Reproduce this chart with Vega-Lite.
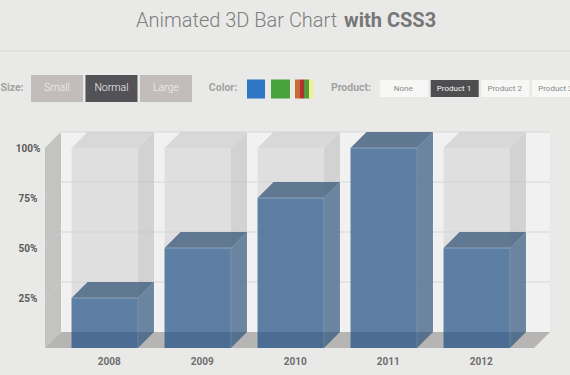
{
"$schema":"https://vega.github.io/schema/vega-lite/v6.json",
"width":570,"height":375,"autosize":{"type":"none"},"padding":0,
"background":"#e9e9e7",
"config":{"view":{"stroke":null},"font":"Roboto"},
"datasets":{
"bars":[{"year":2008,"value":25},{"year":2009,"value":50},{"year":2010,"value":75},{"year":2011,"value":100},{"year":2012,"value":50}],
"ticks":[{"tick":25},{"tick":50},{"tick":75},{"tick":100}],
"wall":[{"edge":0},{"edge":1}],
"buttons":[{"group":"size","label":"Small","order":0,"active":false},{"group":"size","label":"Normal","order":1,"active":true},{"group":"size","label":"Large","order":2,"active":false}],
"products":[{"label":"None","order":0,"active":false},{"label":"Product 1","order":1,"active":true},{"label":"Product 2","order":2,"active":false},{"label":"Product 3","order":3,"active":false}],
"swatches":[{"swatch":"blue","order":0},{"swatch":"green","order":1},{"swatch":"orange","order":2},{"swatch":"red","order":3},{"swatch":"leaf","order":4},{"swatch":"yellow","order":5}]
},
"layer":[
{"data":{"name":"wall"},"mark":{"type":"area","orient":"vertical","color":"#c3c3c2"},
"transform":[{"calculate":"2007.3575+datum.edge*0.172","as":"x"},{"calculate":"100+datum.edge*8","as":"t"},{"calculate":"datum.edge*8","as":"b"}],
"encoding":{
"x":{"field":"x","type":"quantitative","scale":{"domain":[2006.8737,2013.0027],"nice":false,"zero":false},
"axis":{"values":[2008,2009,2010,2011,2012],"format":"d","orient":"bottom","domain":false,"ticks":false,"grid":false,"title":null,"labelOffset":4,"labelPadding":-19,"labelFont":"Roboto","labelFontSize":10,"labelFontWeight":"bold","labelColor":"#6f6f6f"}},
"y":{"field":"t","type":"quantitative","scale":{"domain":[-13.5,174],"nice":false,"zero":false},
"axis":{"values":[25,50,75,100],"labelExpr":"datum.value+'%'","orient":"left","domain":false,"ticks":false,"grid":false,"title":null,"labelAlign":"center","labelPadding":-27.5,"labelOffset":0.5,"labelFont":"Roboto","labelFontSize":10,"labelFontWeight":"bold","labelColor":"#5a5a5a"}},
"y2":{"field":"b"}}},
{"data":{"name":"wall"},"mark":{"type":"area","orient":"horizontal","color":"#b6b5b3"},
"transform":[{"calculate":"2007.3575+datum.edge*0.172","as":"x"},{"calculate":"2012.616+datum.edge*0.172","as":"x2"},{"calculate":"datum.edge*8","as":"y"}],
"encoding":{"x":{"field":"x","type":"quantitative"},"x2":{"field":"x2"},"y":{"field":"y","type":"quantitative"}}},
{"data":{"name":"wall"},"transform":[{"filter":"datum.edge==0"}],"mark":{"type":"rect","color":"#f1f1f1"},
"encoding":{"x":{"datum":2007.5296,"type":"quantitative"},"x2":{"datum":2012.788},"y":{"datum":8,"type":"quantitative"},"y2":{"datum":108}}},
{"data":{"name":"ticks"},"mark":{"type":"rule","color":"#d2d2d2","strokeWidth":0.8},
"transform":[{"calculate":"datum.tick+8","as":"g"}],
"encoding":{"x":{"datum":2007.5296,"type":"quantitative"},"x2":{"datum":2012.788},"y":{"field":"g","type":"quantitative"}}},
{"data":{"name":"ticks"},"mark":{"type":"line","color":"#cfcfcf","strokeWidth":0.8},
"transform":[{"calculate":"[0,1]","as":"edge"},{"flatten":["edge"]},{"calculate":"2007.3575+datum.edge*0.172","as":"x"},{"calculate":"datum.tick+datum.edge*8","as":"y"}],
"encoding":{"x":{"field":"x","type":"quantitative"},"y":{"field":"y","type":"quantitative"},"detail":{"field":"tick"}}},

{"data":{"name":"bars"},"mark":{"type":"rect","color":"#d3d3d3","opacity":0.6},
"transform":[{"calculate":"datum.year-0.357","as":"x0"},{"calculate":"datum.year+0.357","as":"x1"}],
"encoding":{"x":{"field":"x0","type":"quantitative"},"x2":{"field":"x1"},"y":{"datum":0,"type":"quantitative"},"y2":{"datum":100}}},
{"data":{"name":"bars"},"mark":{"type":"area","orient":"vertical","color":"#c2c2c2","opacity":0.65},
"transform":[{"calculate":"[0,1]","as":"edge"},{"flatten":["edge"]},{"calculate":"datum.year+0.357+datum.edge*0.172","as":"x"},{"calculate":"100+datum.edge*8","as":"t"},{"calculate":"datum.edge*8","as":"b"}],
"encoding":{"x":{"field":"x","type":"quantitative"},"y":{"field":"t","type":"quantitative"},"y2":{"field":"b"},"detail":{"field":"year"}}},
{"data":{"name":"bars"},"mark":{"type":"area","orient":"horizontal","color":"#cdcdcd","opacity":0.7},
"transform":[{"calculate":"[0,1]","as":"edge"},{"flatten":["edge"]},{"calculate":"datum.year-0.357+datum.edge*0.172","as":"x"},{"calculate":"datum.year+0.357+datum.edge*0.172","as":"x2"},{"calculate":"100+datum.edge*8","as":"y"}],
"encoding":{"x":{"field":"x","type":"quantitative"},"x2":{"field":"x2"},"y":{"field":"y","type":"quantitative"},"detail":{"field":"year"}}},

{"data":{"name":"bars"},"mark":{"type":"rect","color":"#3a6494","opacity":0.78},
"transform":[{"calculate":"datum.year-0.357","as":"x0"},{"calculate":"datum.year+0.357","as":"x1"}],
"encoding":{"x":{"field":"x0","type":"quantitative"},"x2":{"field":"x1"},"y":{"field":"value","type":"quantitative"},"y2":{"datum":0}}},
{"data":{"name":"bars"},"mark":{"type":"area","orient":"vertical","color":"#42668c","opacity":0.72},
"transform":[{"calculate":"[0,1]","as":"edge"},{"flatten":["edge"]},{"calculate":"datum.year+0.357+datum.edge*0.172","as":"x"},{"calculate":"datum.value+datum.edge*8","as":"t"},{"calculate":"datum.edge*8","as":"b"}],
"encoding":{"x":{"field":"x","type":"quantitative"},"y":{"field":"t","type":"quantitative"},"y2":{"field":"b"},"detail":{"field":"year"}}},
{"data":{"name":"bars"},"mark":{"type":"area","orient":"horizontal","color":"#466282","opacity":0.82},
"transform":[{"calculate":"[0,1]","as":"edge"},{"flatten":["edge"]},{"calculate":"datum.year-0.357+datum.edge*0.172","as":"x"},{"calculate":"datum.year+0.357+datum.edge*0.172","as":"x2"},{"calculate":"datum.value+datum.edge*8","as":"y"}],
"encoding":{"x":{"field":"x","type":"quantitative"},"x2":{"field":"x2"},"y":{"field":"y","type":"quantitative"},"detail":{"field":"year"}}},
{"data":{"name":"bars"},"mark":{"type":"area","orient":"horizontal","color":"#24466e","opacity":0.24},
"transform":[{"calculate":"[0,1]","as":"edge"},{"flatten":["edge"]},{"calculate":"datum.year-0.357","as":"x"},{"calculate":"datum.year+0.357+datum.edge*0.172","as":"x2"},{"calculate":"datum.edge*8","as":"y"}],
"encoding":{"x":{"field":"x","type":"quantitative"},"x2":{"field":"x2"},"y":{"field":"y","type":"quantitative"},"detail":{"field":"year"}}},
{"data":{"name":"bars"},"mark":{"type":"rule","color":"#c3d1e0","opacity":0.6,"strokeWidth":0.8},
"transform":[{"calculate":"datum.year-0.357","as":"x0"},{"calculate":"datum.year+0.357","as":"x1"}],
"encoding":{"x":{"field":"x0","type":"quantitative"},"x2":{"field":"x1"},"y":{"field":"value","type":"quantitative"}}},
{"data":{"name":"bars"},"mark":{"type":"rule","color":"#a9bccf","opacity":0.25,"strokeWidth":1},
"transform":[{"calculate":"datum.year+0.357","as":"x1"}],
"encoding":{"x":{"field":"x1","type":"quantitative"},"y":{"field":"value","type":"quantitative"},"y2":{"datum":0}}},

{"data":{"name":"wall"},"transform":[{"filter":"datum.edge==0"}],"mark":{"type":"rule","color":"#d9d9d8","strokeWidth":1},
"encoding":{"x":{"datum":2006.8737,"type":"quantitative"},"x2":{"datum":2013.0027},"y":{"datum":148.5,"type":"quantitative"}}},
{"data":{"values":[{"label":"Animated 3D Bar Chart"}]},"mark":{"type":"text","align":"left","baseline":"middle","fontSize":20,"fontWeight":300,"color":"#7f7f7f"},
"encoding":{"x":{"datum":2008.336,"type":"quantitative"},"y":{"datum":163.5,"type":"quantitative"},"text":{"field":"label"}}},
{"data":{"values":[{"label":"with CSS3"}]},"mark":{"type":"text","align":"left","baseline":"middle","fontSize":20,"fontWeight":"bold","color":"#777777"},
"encoding":{"x":{"datum":2010.5726,"type":"quantitative"},"y":{"datum":163.5,"type":"quantitative"},"text":{"field":"label"}}},

{"data":{"values":[{"label":"Size:","order":0},{"label":"Color:","order":1},{"label":"Product:","order":2}]},
"transform":[{"calculate":"[2007.0027,2009.2715,2010.6478][datum.order]","as":"x"}],
"mark":{"type":"text","align":"center","baseline":"middle","fontSize":10.5,"fontWeight":"bold","color":"#a3a3a3"},
"encoding":{"x":{"field":"x","type":"quantitative"},"y":{"datum":130,"type":"quantitative"},"text":{"field":"label"}}},

{"data":{"name":"buttons"},"transform":[{"calculate":"2007.207+datum.order*0.586","as":"x0"},{"calculate":"datum.x0+0.5591","as":"x1"}],
"mark":{"type":"rect"},
"encoding":{"x":{"field":"x0","type":"quantitative"},"x2":{"field":"x1"},"y":{"datum":136.5,"type":"quantitative"},"y2":{"datum":123},
"color":{"condition":{"test":"datum.active","value":"#525257"},"value":"#c2bcbc"}}},
{"data":{"name":"buttons"},"transform":[{"calculate":"2007.207+datum.order*0.586+0.2795","as":"x"}],
"mark":{"type":"text","align":"center","baseline":"middle","fontSize":10.5,"fontWeight":300,"color":"#f4f2f2"},
"encoding":{"x":{"field":"x","type":"quantitative"},"y":{"datum":130,"type":"quantitative"},"text":{"field":"label"}}},

{"data":{"name":"swatches"},"transform":[{"calculate":"[2009.5296,2009.7876,2010.0457,2010.0995,2010.1425,2010.1962][datum.order]","as":"x0"},{"calculate":"[2009.7231,2009.9919,2010.0995,2010.1425,2010.1962,2010.2392][datum.order]","as":"x1"}],
"mark":{"type":"rect"},
"encoding":{"x":{"field":"x0","type":"quantitative"},"x2":{"field":"x1"},"y":{"datum":134.25,"type":"quantitative"},"y2":{"datum":124.75},
"color":{"field":"swatch","type":"nominal","legend":null,"scale":{"domain":["blue","green","orange","red","leaf","yellow"],"range":["#2f77c4","#47a13c","#cf6a36","#b92e2e","#4f9e3e","#f5ef8c"]}}}},

{"data":{"name":"products"},"transform":[{"calculate":"2010.9597+datum.order*0.5452","as":"x0"},{"calculate":"datum.x0+0.5161","as":"x1"}],
"mark":{"type":"rect"},
"encoding":{"x":{"field":"x0","type":"quantitative"},"x2":{"field":"x1"},"y":{"datum":134,"type":"quantitative"},"y2":{"datum":125.5},
"color":{"condition":{"test":"datum.active","value":"#4e4e50"},"value":"#f7f7f6"}}},
{"data":{"name":"products"},"transform":[{"calculate":"2010.9597+datum.order*0.5452+0.25","as":"x"}],
"mark":{"type":"text","align":"center","baseline":"middle","fontSize":8},
"encoding":{"x":{"field":"x","type":"quantitative"},"y":{"datum":129.75,"type":"quantitative"},"text":{"field":"label"},
"color":{"condition":{"test":"datum.active","value":"#f2f2f2"},"value":"#8a8a8a"}}}
]
}
